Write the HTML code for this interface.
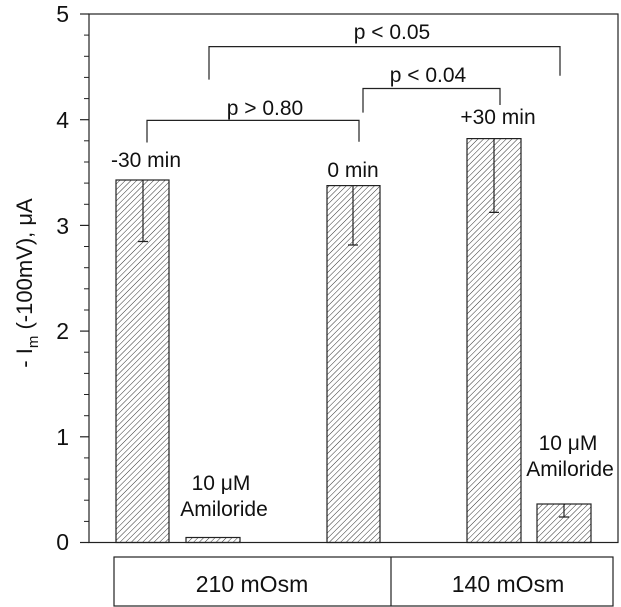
<!DOCTYPE html>
<html><head><meta charset="utf-8"><style>body{margin:0;background:#fff}svg{display:block}</style></head><body>
<svg width="621" height="607" viewBox="0 0 621 607" xmlns="http://www.w3.org/2000/svg" font-family="Liberation Sans, sans-serif">
<defs>
<pattern id="h" patternUnits="userSpaceOnUse" width="4" height="4" patternTransform="rotate(45)">
<line x1="0" y1="0" x2="0" y2="4" stroke="#333" stroke-width="1"/>
</pattern>
</defs>
<rect x="89" y="14" width="529" height="528.5" fill="none" stroke="#222" stroke-width="1.2"/>
<g stroke="#222" stroke-width="1.2">
<line x1="80" y1="14" x2="89" y2="14"/><line x1="80" y1="119.7" x2="89" y2="119.7"/><line x1="80" y1="225.4" x2="89" y2="225.4"/><line x1="80" y1="331.1" x2="89" y2="331.1"/><line x1="80" y1="436.8" x2="89" y2="436.8"/><line x1="80" y1="542.5" x2="89" y2="542.5"/>
</g>
<g stroke="#222" stroke-width="1">
<line x1="84" y1="35.1" x2="89" y2="35.1"/><line x1="84" y1="56.3" x2="89" y2="56.3"/><line x1="84" y1="77.4" x2="89" y2="77.4"/><line x1="84" y1="98.6" x2="89" y2="98.6"/>
<line x1="84" y1="140.8" x2="89" y2="140.8"/><line x1="84" y1="162" x2="89" y2="162"/><line x1="84" y1="183.1" x2="89" y2="183.1"/><line x1="84" y1="204.3" x2="89" y2="204.3"/>
<line x1="84" y1="246.5" x2="89" y2="246.5"/><line x1="84" y1="267.7" x2="89" y2="267.7"/><line x1="84" y1="288.8" x2="89" y2="288.8"/><line x1="84" y1="310" x2="89" y2="310"/>
<line x1="84" y1="352.2" x2="89" y2="352.2"/><line x1="84" y1="373.4" x2="89" y2="373.4"/><line x1="84" y1="394.5" x2="89" y2="394.5"/><line x1="84" y1="415.7" x2="89" y2="415.7"/>
<line x1="84" y1="457.9" x2="89" y2="457.9"/><line x1="84" y1="479.1" x2="89" y2="479.1"/><line x1="84" y1="500.2" x2="89" y2="500.2"/><line x1="84" y1="521.4" x2="89" y2="521.4"/>
</g>
<g font-size="23" text-anchor="end" fill="#111">
<text x="69" y="22">5</text><text x="69" y="128">4</text><text x="69" y="234">3</text><text x="69" y="339">2</text><text x="69" y="445">1</text><text x="69" y="550">0</text>
</g>
<text transform="translate(32,283) rotate(-90)" font-size="22" text-anchor="middle" fill="#111">- I<tspan font-size="15" dy="6">m</tspan><tspan dy="-6"> (-100mV), μA</tspan></text>
<g fill="url(#h)" stroke="#222" stroke-width="1.2">
<rect x="116" y="180" width="53" height="362.5"/>
<rect x="186" y="537.5" width="54" height="5"/>
<rect x="327" y="185.6" width="53" height="356.9"/>
<rect x="467" y="138.6" width="54" height="403.9"/>
<rect x="537" y="504" width="54" height="38.5"/>
</g>
<g stroke="#222" stroke-width="1.2" fill="none">
<path d="M143 180V241.5M138 241.5H148"/>
<path d="M353 185.6V245M348 245H358"/>
<path d="M494 138.6V212.4M489 212.4H499"/>
<path d="M564 504V517M559 517H569"/>
<path d="M147 142.5V120.4H359V141.7"/>
<path d="M209 79.6V46.6H560V75.7"/>
<path d="M363 112.6V88.5H500V105"/>
</g>
<g font-size="21" text-anchor="middle" fill="#111">
<text x="265" y="115">p &gt; 0.80</text>
<text x="392" y="39">p &lt; 0.05</text>
<text x="428" y="82">p &lt; 0.04</text>
<text x="146" y="167">-30 min</text>
<text x="353" y="177">0 min</text>
<text x="498" y="124">+30 min</text>
<text x="221" y="490">10 μM</text>
<text x="224" y="516">Amiloride</text>
<text x="568" y="450">10 μM</text>
<text x="570" y="476">Amiloride</text>
</g>
<rect x="114" y="557" width="499" height="49" fill="none" stroke="#222" stroke-width="1.2"/>
<line x1="391" y1="557" x2="391" y2="606" stroke="#222" stroke-width="1.2"/>
<g font-size="23" text-anchor="middle" fill="#111">
<text x="252" y="592">210 mOsm</text>
<text x="508" y="592">140 mOsm</text>
</g>
</svg>
</body></html>
